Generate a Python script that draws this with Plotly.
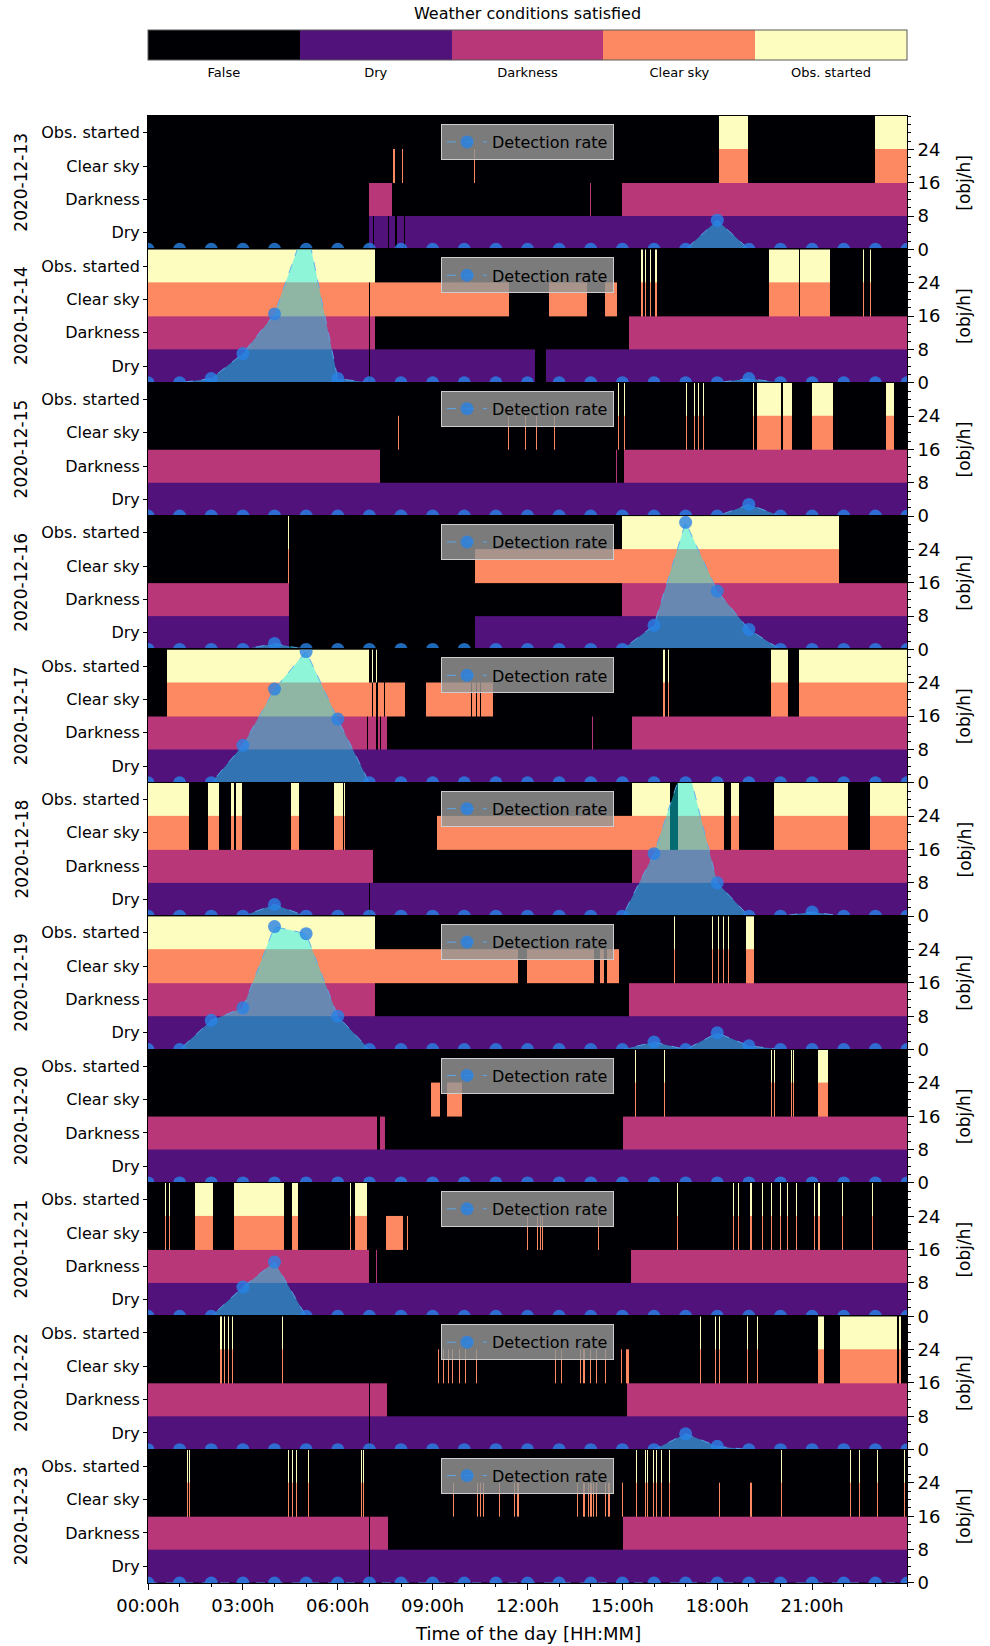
import plotly.graph_objects as go
from plotly.subplots import make_subplots

# ---------------------------------------------------------------------------
# Data
# ---------------------------------------------------------------------------
days = ["2020-12-13", "2020-12-14", "2020-12-15", "2020-12-16", "2020-12-17",
        "2020-12-18", "2020-12-19", "2020-12-20", "2020-12-21", "2020-12-22",
        "2020-12-23"]
row_labels = ["Dry", "Darkness", "Clear sky", "Obs. started"]
state_labels = ["False", "Dry", "Darkness", "Clear sky", "Obs. started"]
state_colors = ["#000004", "#51127c", "#b73779", "#fc8961", "#fcfdbf"]
hours = list(range(25))
tick_hours = [0, 3, 6, 9, 12, 15, 18, 21]
tick_text = ["00:00h", "03:00h", "06:00h", "09:00h", "12:00h", "15:00h", "18:00h", "21:00h"]

# Time spans (hours of the day) where each condition holds.
# A pair is [start, end]; a single number is a short, single-sample span.
dry_13 = [[7.0, 7.12], [7.16, 7.58], [7.62, 7.82], [7.86, 8.08], [8.12, 24]]
dark_13 = [[7.0, 7.72], 13.97, [15.0, 24]]
clear_13 = [7.76, 8.04, 10.3, [18.07, 18.97], [22.98, 24]]
obs_13 = [[18.07, 18.97], [22.98, 24]]
rate_13 = [0, 0, 0, 0, 0, 0, 0, 0, 0, 0, 0, 0, 0, 0, 0, 0, 0, 0, 7, 0, 0, 0, 0, 0, 0]

dry_14 = [[0, 6.98], [7.02, 12.23], [12.59, 24]]
dark_14 = [[0, 6.98], [7.02, 7.18], [15.22, 24]]
clear_14 = [[0, 6.98], [7.02, 11.43], [12.67, 13.87], [14.45, 14.82], [15.6, 15.66],
            15.72, 15.88, [16.04, 16.09], [19.65, 20.58], [20.62, 21.55], 22.6, 22.84]
obs_14 = [[0, 7.18], [15.6, 15.66], 15.72, 15.88, [16.04, 16.09], [19.65, 20.58],
          [20.62, 21.55], 22.6, 22.84]
rate_14 = [0, 0, 1, 7, 16.5, 38, 1, 0, 0, 0, 0, 0, 0, 0, 0, 0, 0, 0, 0, 1, 0, 0, 0, 0, 0]

dry_15 = [[0, 24]]
dark_15 = [[0, 7.33], 14.8, [15.06, 24]]
clear_15 = [7.9, 11.39, 11.91, 12.27, 12.83, 14.86, 15.04, 17.02, 17.26, 17.38, 17.56,
            19.13, [19.25, 20.03], [20.07, 20.35], [21.0, 21.65], [23.34, 23.6]]
obs_15 = [14.86, 15.04, 17.02, 17.26, 17.38, 17.56, 19.13, [19.25, 20.03],
          [20.07, 20.35], [21.0, 21.65], [23.34, 23.6]]
rate_15 = [0, 0, 0, 0, 0, 0, 0, 0, 0, 0, 0, 0, 0, 0, 0, 0, 0, 0, 0, 2.8, 0, 0, 0, 0, 0]

dry_16 = [[0, 4.45], [10.33, 24]]
dark_16 = [[0, 4.45], [15.0, 24]]
clear_16 = [4.42, [10.33, 21.85]]
obs_16 = [4.42, [15.0, 21.85]]
rate_16 = [0, 0, 0, 0, 1.4, 0, 0, 0, 0, 0, 0, 0, 0, 0, 0, 0, 5.8, 30.5, 14, 4.8, 0, 0, 0, 0, 0]

dry_17 = [[0, 24]]
dark_17 = [[0, 6.93], [6.96, 7.22], [7.26, 7.32], [7.36, 7.57], 14.05, [15.3, 24]]
clear_17 = [[0.6, 7.08], [7.12, 7.22], [7.26, 7.46], [7.5, 8.12], [8.78, 10.21],
            [10.25, 10.37], [10.41, 10.49], [10.53, 10.91], 16.3, 16.44,
            [19.7, 20.25], [20.6, 24]]
obs_17 = [[0.6, 7.0], 7.08, 7.22, 16.3, 16.44, [19.7, 20.25], [20.6, 24]]
rate_17 = [0, 0, 0, 9, 22.5, 31.5, 15.3, 0, 0, 0, 0, 0, 0, 0, 0, 0, 0, 0, 0, 0, 0, 0, 0, 0, 0]

dry_18 = [[0, 6.98], [7.02, 24]]
dark_18 = [[0, 7.12], [15.3, 24]]
clear_18 = [[0, 1.3], [1.9, 2.25], [2.62, 2.72], [2.78, 2.97], [4.53, 4.79], [5.89, 6.16],
            [6.2, 6.24], [9.14, 16.5], [16.76, 18.21], [18.45, 18.69], [19.81, 22.15],
            [22.84, 24]]
obs_18 = [[0, 1.3], [1.9, 2.25], [2.62, 2.72], [2.78, 2.97], [4.53, 4.79], [5.89, 6.16],
          [6.2, 6.24], [15.3, 16.5], [16.76, 18.21], [18.45, 18.69], [19.81, 22.15],
          [22.84, 24]]
rate_18 = [0, 0, 0, 0, 2.8, 0, 0, 0, 0, 0, 0, 0, 0, 0, 0, 0, 15, 38, 8, 0, 0, 1, 0, 0, 0]

dry_19 = [[0, 24]]
dark_19 = [[0, 7.18], [15.22, 24]]
clear_19 = [[0, 11.71], [11.97, 14.1], [14.3, 14.42], [14.5, 14.9], 16.64, 17.84, 18.03,
            18.18, 18.33, [18.9, 19.15]]
obs_19 = [[0, 7.18], 16.64, 17.84, 18.03, 18.18, 18.33, [18.9, 19.15]]
rate_19 = [0, 0, 7, 10, 29.5, 27.8, 8, 0, 0, 0, 0, 0, 0, 0, 0, 0, 1.8, 0, 4, 0.9, 0, 0, 0, 0, 0]

dry_20 = [[0, 24]]
dark_20 = [[0, 7.24], [7.34, 7.48], [15.02, 24]]
clear_20 = [[8.94, 9.22], [9.44, 9.92], 15.4, 16.32, 19.7, 19.8, 20.33, 20.4, [21.19, 21.49]]
obs_20 = [15.4, 16.32, 19.7, 19.8, 20.33, 20.4, [21.19, 21.49]]
rate_20 = [0, 0, 0, 0, 0, 0, 0, 0, 0, 0, 0, 0, 0, 0, 0, 0, 0, 0, 0, 0, 0, 0, 0, 0, 0]

dry_21 = [[0, 24]]
dark_21 = [[0, 7.0], 7.22, [15.26, 24]]
clear_21 = [0.54, 0.66, [1.5, 2.05], [2.73, 4.29], [4.55, 4.75], 6.38, [6.54, 6.94],
            [7.54, 8.06], 8.2, 11.97, 12.3, 12.38, 12.47, 14.22, 16.72, 18.51, 18.65,
            19.05, 19.41, 19.69, 19.98, 20.2, 20.5, 21.05, 21.2, 21.95, 22.9]
obs_21 = [0.54, 0.66, [1.5, 2.05], [2.73, 4.29], [4.55, 4.75], 6.38, [6.54, 6.94],
          16.72, 18.51, 18.65, 19.05, 19.41, 19.69, 19.98, 20.2, 20.5, 21.05, 21.2,
          21.95, 22.9]
rate_21 = [0, 0, 0, 7, 13, 0, 0, 0, 0, 0, 0, 0, 0, 0, 0, 0, 0, 0, 0, 0, 0, 0, 0, 0, 0]

dry_22 = [[0, 6.98], [7.02, 24]]
dark_22 = [[0, 6.98], [7.02, 7.56], [15.16, 24]]
clear_22 = [2.29, 2.41, 2.53, 2.65, 4.23, 9.18, 9.32, 9.48, 9.62, 9.82, 10.02, 10.37,
            12.87, 13.07, 13.67, 13.77, 13.97, 14.16, 14.46, 14.96, 15.1, 15.16, 17.46,
            17.92, 18.05, 18.95, 19.25, [21.17, 21.39], [21.89, 23.68], 23.76]
obs_22 = [2.29, 2.41, 2.53, 2.65, 4.23, 17.46, 17.92, 18.05, 18.95, 19.25,
          [21.17, 21.39], [21.89, 23.68], 23.76]
rate_22 = [0, 0, 0, 0, 0, 0, 0, 0, 0, 0, 0, 0, 0, 0, 0, 0, 0, 3.8, 0.8, 0, 0, 0, 0, 0, 0]

dry_23 = [[0, 6.98], [7.02, 24]]
dark_23 = [[0, 6.98], [7.02, 7.58], [15.02, 24]]
clear_23 = [1.24, 1.3, 4.43, 4.55, 4.69, 5.05, 6.72, 6.8, 9.64, 10.41, 10.51, 10.59, 11.11,
            11.57, 11.67, 11.71, 13.57, 13.77, 13.91, 13.99, 14.07, 14.16, 14.46, 14.56,
            15.0, 15.42, 15.7, 15.78, 15.96, 16.06, 16.22, 16.46, 18.05, 19.05, 20.01,
            22.2, 22.48, 23.04, 23.9]
obs_23 = [1.24, 1.3, 4.43, 4.55, 4.69, 5.05, 6.72, 6.8, 15.42, 15.7, 15.78, 15.96, 16.06,
          16.22, 16.46, 20.01, 22.2, 22.48, 23.04, 23.9]
rate_23 = [0, 0, 0, 0, 0, 0, 0, 0, 0, 0, 0, 0, 0, 0, 0, 0, 0, 0, 0, 0, 0, 0, 0, 0, 0]

dry = [dry_13, dry_14, dry_15, dry_16, dry_17, dry_18, dry_19, dry_20, dry_21, dry_22, dry_23]
dark = [dark_13, dark_14, dark_15, dark_16, dark_17, dark_18, dark_19, dark_20, dark_21,
        dark_22, dark_23]
clear = [clear_13, clear_14, clear_15, clear_16, clear_17, clear_18, clear_19, clear_20,
         clear_21, clear_22, clear_23]
obs = [obs_13, obs_14, obs_15, obs_16, obs_17, obs_18, obs_19, obs_20, obs_21, obs_22, obs_23]
rates = [rate_13, rate_14, rate_15, rate_16, rate_17, rate_18, rate_19, rate_20, rate_21,
         rate_22, rate_23]

# ---------------------------------------------------------------------------
# Helpers
# ---------------------------------------------------------------------------
SAMPLE_W = 0.035  # width (h) of a single-sample span


def spans(items):
    out = []
    for it in items:
        if isinstance(it, (int, float)):
            out.append((float(it), float(it) + SAMPLE_W))
        else:
            out.append((float(it[0]), float(it[1])))
    return out


def condition_grid(rows):
    """Cell edges along time and a 4 x n grid of state levels (0 = False)."""
    sp = [spans(r) for r in rows]
    cuts = {0.0, 24.0}
    for s in sp:
        for a, b in s:
            cuts.add(round(min(max(a, 0.0), 24.0), 4))
            cuts.add(round(min(max(b, 0.0), 24.0), 4))
    edges = sorted(cuts)
    z = []
    for level, s in enumerate(sp, start=1):
        zr = []
        for a, b in zip(edges[:-1], edges[1:]):
            m = 0.5 * (a + b)
            zr.append(level if any(lo <= m < hi for lo, hi in s) else 0)
        z.append(zr)
    return edges, z


# Discrete colour scale for the 5 states
n_states = len(state_colors)
cscale = []
for i, c in enumerate(state_colors):
    cscale.append([i / n_states, c])
    cscale.append([(i + 1) / n_states, c])

FONT = "DejaVu Sans"
n = len(days)

fig = make_subplots(rows=n, cols=1, shared_xaxes=True, vertical_spacing=0,
                    specs=[[{"secondary_y": True}] for _ in range(n)])

for k in range(n):
    r = k + 1
    edges, z = condition_grid([dry[k], dark[k], clear[k], obs[k]])
    fig.add_trace(go.Heatmap(x=edges, y=[0, 1, 2, 3], z=z, coloraxis="coloraxis",
                             hoverinfo="skip"),
                  row=r, col=1, secondary_y=False)
    fig.add_trace(go.Scatter(x=hours, y=rates[k], mode="lines", line=dict(width=0),
                             fill="tozeroy", fillcolor="rgba(10,235,246,0.45)",
                             showlegend=False, hoverinfo="skip"),
                  row=r, col=1, secondary_y=True)
    fig.add_trace(go.Scatter(x=hours, y=rates[k], mode="lines+markers",
                             name="Detection rate",
                             line=dict(color="rgba(90,170,240,0.9)", width=1, dash="dash"),
                             marker=dict(size=13, color="rgba(40,130,230,0.8)"),
                             legend="legend" if k == 0 else f"legend{k + 1}",
                             showlegend=True),
                  row=r, col=1, secondary_y=True)

# Axes
fig.update_xaxes(domain=[0, 1], range=[0, 24], showgrid=False, zeroline=False,
                 showline=True, linecolor="black", linewidth=1, mirror=True, ticks="",
                 showticklabels=False)
fig.update_xaxes(row=n, col=1, showticklabels=True, tickvals=tick_hours, ticktext=tick_text,
                 ticks="outside", ticklen=6, tickcolor="black",
                 minor=dict(dtick=1, ticks="outside", ticklen=3, tickcolor="black"),
                 tickfont=dict(family=FONT, size=18, color="black"))

for r in range(1, n + 1):
    fig.update_yaxes(row=r, col=1, secondary_y=False, range=[-0.5, 3.5],
                     tickvals=[0, 1, 2, 3], ticktext=row_labels, showgrid=False,
                     zeroline=False, showline=True, linecolor="black", mirror=True,
                     ticks="outside", ticklen=4, tickcolor="black",
                     tickfont=dict(family=FONT, size=16, color="black"))
    fig.update_yaxes(row=r, col=1, secondary_y=True, range=[0, 32],
                     tickvals=[0, 8, 16, 24], showgrid=False, zeroline=False,
                     ticks="outside", ticklen=6, tickcolor="black",
                     minor=dict(dtick=2, ticks="outside", ticklen=3, tickcolor="black"),
                     tickfont=dict(family=FONT, size=18, color="black"))

# Layout geometry
W, H = 990, 1646
M_L, M_R, M_T, M_B = 148, 83, 116, 63
plot_h = H - M_T - M_B


def paper_y(px):
    return (H - M_B - px) / plot_h


layout_extra = {}
annotations = []
for k in range(n):
    top = 1 - k / n
    bot = 1 - (k + 1) / n
    name = "legend" if k == 0 else f"legend{k + 1}"
    layout_extra[name] = dict(
        x=0.5, xanchor="center", y=top - 8 / plot_h, yanchor="top",
        bgcolor="rgba(150,150,150,0.82)", bordercolor="rgb(205,205,205)", borderwidth=1,
        font=dict(family=FONT, size=16, color="black"), itemwidth=40,
        tracegroupgap=0)
    annotations.append(dict(text=days[k], xref="paper", yref="paper", x=0, y=(top + bot) / 2,
                            xanchor="center", yanchor="middle", xshift=-127, textangle=-90,
                            showarrow=False, font=dict(family=FONT, size=17, color="black")))
    annotations.append(dict(text="[obj/h]", xref="paper", yref="paper", x=1,
                            y=(top + bot) / 2, xanchor="center", yanchor="middle", xshift=57,
                            textangle=-90, showarrow=False,
                            font=dict(family=FONT, size=17, color="black")))

# x-axis title
annotations.append(dict(text="Time of the day [HH:MM]", xref="paper", yref="paper",
                        x=0.5, y=paper_y(1633), xanchor="center", yanchor="middle",
                        showarrow=False, font=dict(family=FONT, size=18, color="black")))

fig.update_layout(
    width=W, height=H,
    margin=dict(l=M_L, r=M_R, t=M_T, b=M_B, autoexpand=False),
    paper_bgcolor="white", plot_bgcolor="black",
    font=dict(family=FONT, color="black"),
    coloraxis=dict(
        colorscale=cscale, cmin=-0.5, cmax=4.5,
        colorbar=dict(
            orientation="h", x=0.5, xanchor="center", y=paper_y(76), yanchor="bottom",
            len=1, lenmode="fraction", thickness=30, xpad=0, ypad=0,
            tickvals=[0, 1, 2, 3, 4], ticktext=state_labels, ticks="",
            tickfont=dict(family=FONT, size=13, color="black"),
            outlinecolor="rgb(90,90,90)", outlinewidth=1,
            title=dict(text="Weather conditions satisfied", side="top",
                       font=dict(family=FONT, size=16, color="black")))),
    annotations=annotations,
    **layout_extra,
)

fig.write_html("out.html")
